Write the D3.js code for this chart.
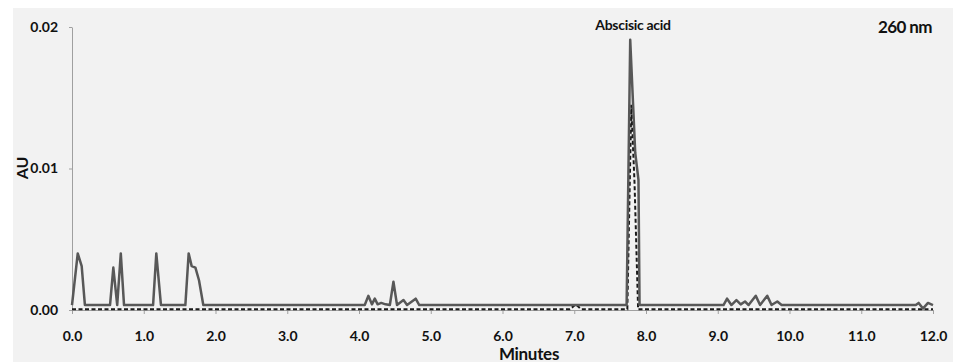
<!DOCTYPE html>
<html>
<head>
<meta charset="utf-8">
<script src="https://cdn.jsdelivr.net/npm/d3@7"></script>
<style>
  body { margin: 0; background: #fff; }
  text { font-family: Lato, "Open Sans", sans-serif; font-weight: bold; fill: #111; }
</style>
</head>
<body>
<svg id="chart" width="958" height="364"></svg>
<script>
// sample trace (solid)
const sampleTime = [0.00, 0.08, 0.135, 0.18, 0.53, 0.576, 0.63, 0.68, 0.725, 1.13, 1.175, 1.24,
  1.58, 1.626, 1.668, 1.72, 1.77, 1.83, 4.08, 4.13, 4.18, 4.22, 4.26, 4.31, 4.37, 4.43, 4.48,
  4.53, 4.62, 4.67, 4.79, 4.84, 7.73, 7.78, 7.85, 7.895, 7.91, 9.08, 9.13, 9.19, 9.26, 9.32,
  9.38, 9.43, 9.53, 9.59, 9.69, 9.75, 9.83, 9.89, 11.76, 11.80, 11.86, 11.93, 12.0];
const sampleAU = [0.00035, 0.0040, 0.0031, 0.00035, 0.00035, 0.0030, 0.00035, 0.0040, 0.00035,
  0.00035, 0.0040, 0.00035, 0.00035, 0.0040, 0.0031, 0.0030, 0.0021, 0.00035, 0.00035, 0.0010,
  0.0004, 0.0008, 0.0004, 0.0005, 0.0004, 0.00035, 0.0020, 0.00035, 0.0007, 0.00035, 0.0008,
  0.00035, 0.00035, 0.0191, 0.0111, 0.0092, 0.00035, 0.00035, 0.0008, 0.00035, 0.0007, 0.0004,
  0.0006, 0.00035, 0.0010, 0.00035, 0.0010, 0.00035, 0.0006, 0.00035, 0.00035, 0.0005, 0.0001,
  0.0005, 0.00035];

// standard trace (dashed)
const standardTime = [0.00, 6.94, 7.02, 7.10, 7.74, 7.795, 7.84, 7.89, 12.0];
const standardAU = [0.00005, 0.00005, 0.0004, 0.00005, 0.00005, 0.0145, 0.0090, 0.00005, 0.00005];

const xTicks = [0, 1, 2, 3, 4, 5, 6, 7, 8, 9, 10, 11, 12];
const yTicks = [0, 0.01, 0.02];

const svg = d3.select('#chart');

svg.append('rect')
  .attr('x', 13).attr('y', 8)
  .attr('width', 940).attr('height', 354)
  .attr('fill', '#f2f2f2');

const x = d3.scaleLinear().domain([0, 12]).range([72, 933]);
const y = d3.scaleLinear().domain([0, 0.02]).range([310, 27]);

// axes
const xAxis = svg.append('g')
  .attr('transform', 'translate(0,310)')
  .call(d3.axisBottom(x).tickValues(xTicks).tickFormat(d3.format('.1f')).tickSize(4).tickSizeOuter(0));
xAxis.select('.domain').attr('stroke', '#a0a0a0');
xAxis.selectAll('.tick line').attr('stroke', '#a0a0a0');
xAxis.selectAll('.tick text').attr('font-size', 14).attr('dy', 0).attr('y', 31).attr('fill', '#111');

const yAxis = svg.append('g')
  .attr('transform', 'translate(72,0)')
  .call(d3.axisLeft(y).tickValues(yTicks).tickFormat(d3.format('.2f')).tickSize(3).tickSizeOuter(0));
yAxis.select('.domain').attr('stroke', '#a0a0a0');
yAxis.selectAll('.tick line').attr('stroke', '#a0a0a0');
yAxis.selectAll('.tick text').attr('font-size', 14).attr('x', -14).attr('fill', '#111');

svg.selectAll('g').attr('font-family', null);

const line = d3.line()
  .x(d => x(d[0]))
  .y(d => y(d[1]));

svg.append('path')
  .datum(d3.zip(standardTime, standardAU))
  .attr('fill', 'none')
  .attr('stroke', '#1a1a1a')
  .attr('stroke-width', 2)
  .attr('stroke-dasharray', '4,2.5')
  .attr('d', line);

svg.append('path')
  .datum(d3.zip(sampleTime, sampleAU))
  .attr('fill', 'none')
  .attr('stroke', '#585858')
  .attr('stroke-width', 2.5)
  .attr('stroke-linejoin', 'round')
  .attr('d', line);

// labels
svg.append('text')
  .attr('x', 529).attr('y', 360)
  .attr('text-anchor', 'middle')
  .attr('font-size', 17)
  .attr('letter-spacing', -0.3)
  .text('Minutes');

svg.append('text')
  .attr('transform', 'translate(28,168) rotate(-90)')
  .attr('text-anchor', 'middle')
  .attr('font-size', 16)
  .text('AU');

svg.append('text')
  .attr('x', 633).attr('y', 30)
  .attr('text-anchor', 'middle')
  .attr('font-size', 14)
  .attr('letter-spacing', -0.3)
  .text('Abscisic acid');

svg.append('text')
  .attr('x', 932).attr('y', 33)
  .attr('text-anchor', 'end')
  .attr('font-size', 17)
  .attr('letter-spacing', -0.6)
  .text('260 nm');
</script>
</body>
</html>
